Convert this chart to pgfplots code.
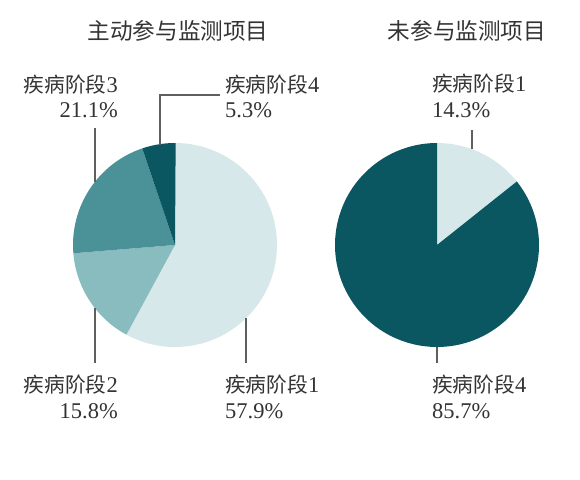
\documentclass[border=0pt]{standalone}
\usepackage{fontspec}
\setmainfont{Liberation Serif}
\newfontfamily\cjk{Noto Sans CJK SC}[Scale=0.92]
\usepackage{pgfplots}
\usepackage{pgfplotstable}
\pgfplotsset{compat=1.18}
\definecolor{cA}{RGB}{214,232,233}
\definecolor{cB}{RGB}{137,188,190}
\definecolor{cC}{RGB}{74,146,152}
\definecolor{cD}{RGB}{10,86,97}
\definecolor{lead}{RGB}{95,95,95}

\pgfplotstableread{
stage value color
1 57.9 cA
2 15.8 cB
3 21.1 cC
4 5.3 cD
}\leftpie
\pgfplotstableread{
stage value color
1 14.3 cA
4 85.7 cD
}\rightpie

\newcommand\drawpie[3]{%
  \pgfplotstablegetrowsof{#1}%
  \pgfmathtruncatemacro\nrows{\pgfplotsretval-1}%
  \gdef\cum{0}%
  \foreach \i in {0,...,\nrows}{%
    \pgfplotstablegetelem{\i}{value}\of{#1}\let\val\pgfplotsretval
    \pgfplotstablegetelem{\i}{color}\of{#1}\let\col\pgfplotsretval
    \pgfmathsetmacro\sa{90-3.6*\cum}%
    \pgfmathsetmacro\ea{90-3.6*(\cum+\val)}%
    \fill[\col] (axis cs:#2,#3) -- ++(\sa:102pt) arc[start angle=\sa, end angle=\ea, radius=102pt] -- cycle;
    \pgfmathsetmacro\newcum{\cum+\val}\global\let\cum\newcum
  }%
}

\begin{document}
\begin{tikzpicture}
\begin{axis}[scale only axis, width=580pt, height=479pt,
  xmin=0, xmax=580, ymin=0, ymax=479, hide axis, disabledatascaling, clip=false]
\pgfplotsextra{%
  \path (axis cs:0,0) rectangle (axis cs:580,479);
  \drawpie{\leftpie}{175}{234}%
  \drawpie{\rightpie}{437}{234}%
}
% leader lines
\draw[lead, line width=1.2pt] (axis cs:95,351) -- (axis cs:95,297);
\draw[lead, line width=1.2pt] (axis cs:220,384) -- (axis cs:160,384) -- (axis cs:160,334);
\draw[lead, line width=1.2pt] (axis cs:95,171) -- (axis cs:95,116);
\draw[lead, line width=1.2pt] (axis cs:246,161) -- (axis cs:246,116);
\draw[lead, line width=1.2pt] (axis cs:472,349) -- (axis cs:472,330);
\draw[lead, line width=1.2pt] (axis cs:437,132) -- (axis cs:437,116);
% titles
\node[anchor=base, inner sep=0, text=black!80] at (axis cs:178,439) {\cjk\fontsize{24.6}{30}\selectfont 主动参与监测项目};
\node[anchor=base, inner sep=0, text=black!80] at (axis cs:467,439) {\cjk\fontsize{24.6}{30}\selectfont 未参与监测项目};
% labels
\begin{scope}[every node/.style={inner sep=0, text=black!80, font=\fontsize{22.5}{26}\selectfont}]
\node[anchor=base east] at (axis cs:118,386) {{\cjk 疾病阶段}3};
\node[anchor=base east] at (axis cs:118,361) {21.1\%};
\node[anchor=base west] at (axis cs:225,386) {{\cjk 疾病阶段}4};
\node[anchor=base west] at (axis cs:225,361) {5.3\%};
\node[anchor=base east] at (axis cs:118,87) {{\cjk 疾病阶段}2};
\node[anchor=base east] at (axis cs:118,61) {15.8\%};
\node[anchor=base west] at (axis cs:225,87) {{\cjk 疾病阶段}1};
\node[anchor=base west] at (axis cs:225,61) {57.9\%};
\node[anchor=base west] at (axis cs:432,387) {{\cjk 疾病阶段}1};
\node[anchor=base west] at (axis cs:432,361) {14.3\%};
\node[anchor=base west] at (axis cs:432,87) {{\cjk 疾病阶段}4};
\node[anchor=base west] at (axis cs:432,61) {85.7\%};
\end{scope}
\end{axis}
\end{tikzpicture}
\end{document}
